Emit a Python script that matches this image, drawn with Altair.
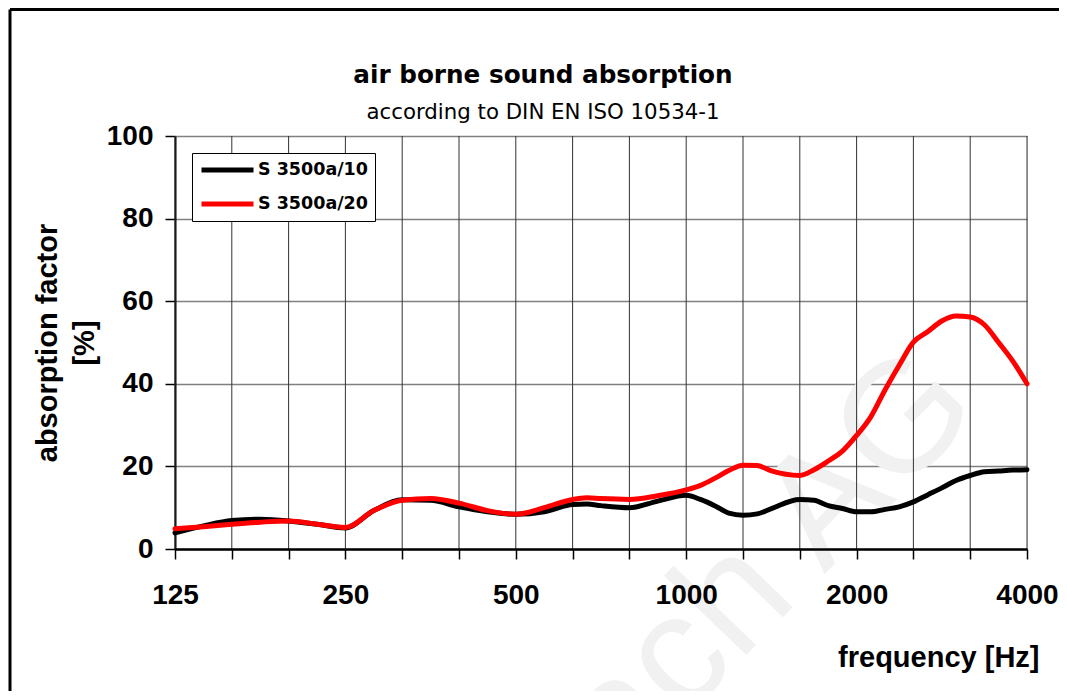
import altair as alt
import pandas as pd

# third-octave band position (0 = 125 Hz ... 15 = 4000 Hz)
band_pos = [0, 0.5, 1, 1.5, 2, 2.5, 3, 3.5, 4, 4.5, 5, 5.5, 6, 6.5,
            7, 7.25, 7.5, 8, 8.5, 9, 9.25, 9.5, 9.75, 10, 10.25, 10.5,
            11, 11.25, 11.5, 11.75, 12, 12.25, 12.5, 12.75, 13, 13.25, 13.5, 13.75,
            14, 14.25, 14.5, 14.75, 15]

s3500a_10 = [3.9, 5.6, 6.9, 7.2, 6.8, 6.0, 5.1, 9.3, 11.9, 11.8, 10.2, 9.0, 8.4, 9.0,
             10.8, 10.9, 10.5, 10.0, 11.6, 13.0, 12.0, 10.5, 8.7, 8.2, 8.5, 9.8,
             12.0, 11.8, 10.5, 9.8, 9.0, 9.0, 9.6, 10.2, 11.4, 13.1, 14.8, 16.6,
             17.8, 18.7, 18.9, 19.1, 19.2]

s3500a_20 = [4.9, 5.4, 6.0, 6.5, 6.8, 6.0, 5.2, 9.3, 11.8, 12.2, 11.1, 9.3, 8.4, 10.0,
             12.0, 12.4, 12.2, 12.0, 12.9, 14.3, 15.4, 17.1, 19.0, 20.3, 20.2, 18.9,
             17.8, 19.2, 21.3, 23.7, 27.5, 32.0, 38.5, 44.5, 50.1, 52.6, 55.2, 56.4,
             56.2, 54.3, 50.0, 45.5, 40.0]

series_names = ["S 3500a/10", "S 3500a/20"]
series_colors = ["#000000", "#ff0000"]

band_freqs = ["125", "160", "200", "250", "315", "400", "500", "630", "800",
              "1000", "1250", "1600", "2000", "2500", "3150", "4000"]
labelled_freqs = ["125", "250", "500", "1000", "2000", "4000"]
y_ticks = [0, 20, 40, 60, 80, 100]
watermark_text = ["ach AG"]

rows = []
for name, vals in zip(series_names, [s3500a_10, s3500a_20]):
    for b, v in zip(band_pos, vals):
        rows.append({"band": b, "value": v, "series": name})
df = pd.DataFrame(rows)

grid_df = pd.DataFrame({"band": list(range(len(band_freqs)))})

label_list = [f if f in labelled_freqs else "" for f in band_freqs]
label_js = "[" + ",".join(f"'{l}'" for l in label_list) + "]"

ARIAL = "Liberation Sans"
WIDE = "DejaVu Sans"

x_axis = alt.Axis(
    values=list(range(len(band_freqs))),
    labelExpr=f"{label_js}[datum.value]",
    title="frequency [Hz]", titleX=864, titleY=117.7, titleAlign="right",
    titleBaseline="alphabetic", titleFont=ARIAL, titleFontSize=29,
    titleFontWeight="bold", titleColor="black",
    labelFont=ARIAL, labelFontSize=28, labelFontWeight="bold", labelColor="black",
    labelPadding=22, labelFlush=False, labelOverlap=False, labelAngle=0,
    tickSize=10, tickColor="black", tickWidth=1.5,
    domainColor="black", domainWidth=2.5,
    grid=False, zindex=1,
)

y_axis = alt.Axis(
    values=y_ticks,
    title=["absorption factor", "[%]"], titleX=-127.2, titleY=206.5,
    titleAngle=270, titleAlign="center", titleBaseline="middle", titleLineHeight=37,
    titleFont=ARIAL, titleFontSize=29, titleFontWeight="bold", titleColor="black",
    labelFont=ARIAL, labelFontSize=28, labelFontWeight="bold", labelColor="black",
    labelPadding=12,
    tickSize=10, tickColor="black", tickWidth=1.5,
    domainColor="black", domainWidth=2,
    grid=True, gridColor="#808080", gridWidth=1.5,
)

x_enc = alt.X("band:Q", scale=alt.Scale(domain=[0, 15], nice=False, zero=False), axis=x_axis)

legend = alt.Legend(
    title=None, orient="none", legendX=17, legendY=17, direction="vertical",
    symbolType="stroke", symbolSize=2704, symbolStrokeWidth=5, clipHeight=20,
    rowPadding=14, padding=7, labelFont=WIDE, labelFontSize=17.5,
    labelFontWeight="bold", labelColor="black", labelOffset=2, labelLimit=300,
    strokeColor="black", fillColor="white", symbolOffset=0,
)

lines = alt.Chart(df).mark_line(
    strokeWidth=5, interpolate="monotone", strokeJoin="round", strokeCap="round"
).encode(
    x=x_enc,
    y=alt.Y("value:Q", scale=alt.Scale(domain=[0, 100], nice=False), axis=y_axis),
    color=alt.Color("series:N", scale=alt.Scale(domain=series_names, range=series_colors),
                    legend=legend),
)

# vertical third-octave grid lines (drawn beneath the curves)
vgrid = alt.Chart(grid_df).mark_rule(color="#333333", strokeWidth=1).encode(x=x_enc)

one = pd.DataFrame({"k": [0]})

watermark = alt.Chart(pd.DataFrame({"t": watermark_text})).mark_text(
    font=ARIAL, fontSize=158, color="#f1f1f1", angle=314, align="center", baseline="middle"
).encode(text="t:N", x=alt.value(594), y=alt.value(428))

frame_top = alt.Chart(one).mark_rule(color="black", strokeWidth=3).encode(
    x=alt.value(-165), x2=alt.value(884), y=alt.value(-126.5)
)
frame_left = alt.Chart(one).mark_rule(color="black", strokeWidth=3).encode(
    x=alt.value(-165), y=alt.value(-126.5), y2=alt.value(560)
)

chart = alt.layer(watermark, vgrid, frame_top, frame_left, lines).properties(
    width=852, height=413,
    title=alt.Title(
        "air borne sound absorption",
        subtitle="according to DIN EN ISO 10534-1",
        anchor="middle", frame="group", dx=-58, dy=129, offset=14, subtitlePadding=14,
        font=WIDE, fontSize=24.7, fontWeight="bold", color="black",
        subtitleFont=WIDE, subtitleFontSize=21.3, subtitleFontWeight="normal",
        subtitleColor="black",
    ),
    padding={"left": 167, "top": 128, "right": 32, "bottom": 142},
    autosize=alt.AutoSizeParams(type="none"),
).configure_view(stroke="black", strokeWidth=1.5).configure(background="white")

chart.save("out.html", embed_options={"renderer": "svg", "actions": False})
